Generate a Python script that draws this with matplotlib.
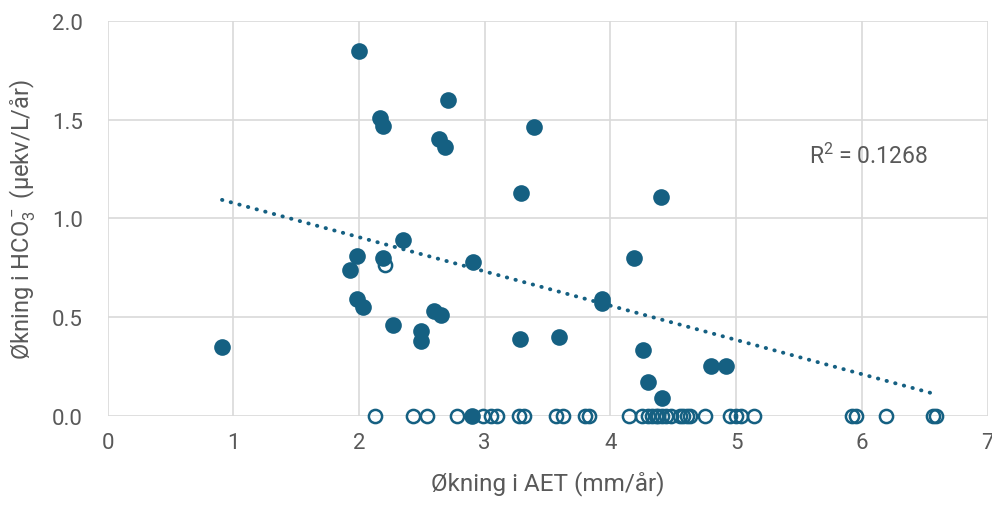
import numpy as np
import matplotlib
matplotlib.use("Agg")
import matplotlib.pyplot as plt

plt.rcParams['font.family'] = ['Roboto', 'DejaVu Sans']
plt.rcParams['mathtext.default'] = 'regular'

# filled markers (measured increase)
filled_x = [0.91, 2.00, 2.17, 2.19, 2.71, 2.64, 2.68, 2.35, 1.98, 1.93, 2.19,
            1.98, 2.03, 2.27, 2.49, 2.49, 2.60, 2.65, 2.91, 3.39, 3.29, 4.40,
            4.19, 3.93, 3.93, 3.28, 3.59, 4.26, 4.30, 4.41, 4.80, 4.92, 2.90]
filled_y = [0.35, 1.85, 1.51, 1.47, 1.60, 1.40, 1.36, 0.89, 0.81, 0.74, 0.80,
            0.59, 0.55, 0.46, 0.43, 0.38, 0.53, 0.51, 0.78, 1.46, 1.13, 1.11,
            0.80, 0.59, 0.57, 0.39, 0.40, 0.33, 0.17, 0.09, 0.25, 0.25, 0.00]

# open markers
open_x = [2.21, 2.13, 2.43, 2.54, 2.78, 2.99, 3.05, 3.10, 3.27, 3.31, 3.57,
          3.62, 3.80, 3.83, 4.15, 4.25, 4.30, 4.33, 4.36, 4.38, 4.41, 4.44,
          4.48, 4.55, 4.58, 4.61, 4.63, 4.75, 4.95, 5.00, 5.04, 5.14, 5.92,
          5.95, 6.19, 6.57, 6.59]
open_y = [0.765] + [0.0] * 36

# linear trendline as shown in the chart
trend_slope = -0.1735
trend_intercept = 1.251
r2_label = "R$^2$ = 0.1268"
xticks = [0, 1, 2, 3, 4, 5, 6, 7]
yticks = [0.0, 0.5, 1.0, 1.5, 2.0]

col = '#156082'
grey = '#595959'

fig = plt.figure(figsize=(9.92, 5.06), dpi=100)
ax = fig.add_axes([0.1085, 0.1767, 0.887, 0.78])

ax.plot(open_x, open_y, 'o', ms=9.5, mfc='none', mec=col, mew=1.8,
        clip_on=False, zorder=3)
ax.plot(filled_x, filled_y, 'o', ms=12, mfc=col, mec=col, mew=0,
        clip_on=False, zorder=4)

all_x = np.array(filled_x + open_x)
tx = np.array([all_x.min(), all_x.max()])
ax.plot(tx, trend_slope * tx + trend_intercept, color=col, lw=2.8,
        linestyle=(0, (0.1, 2.2)), dash_capstyle='round', zorder=2)

ax.text(6.05, 1.32, r2_label, fontsize=16.5, color=grey, ha='center', va='center')

ax.set_xlim(0, 7)
ax.set_ylim(0, 2)
ax.set_xticks(xticks)
ax.set_yticks(yticks)
ax.set_yticklabels([f"{v:.1f}" for v in yticks])
ax.grid(True, color='#d9d9d9', lw=1.2)
ax.set_axisbelow(True)
for s in ax.spines.values():
    s.set_visible(False)
ax.tick_params(length=0, labelsize=16, labelcolor=grey)
ax.tick_params(axis='y', pad=18)
ax.tick_params(axis='x', pad=12)

ax.set_xlabel("Økning i AET (mm/år)", fontsize=17.5, color=grey, labelpad=12)
ax.set_ylabel("Økning i HCO$_3^-$ (µekv/L/år)", fontsize=17, color=grey, labelpad=10)

fig.savefig("out.png", dpi=100)
